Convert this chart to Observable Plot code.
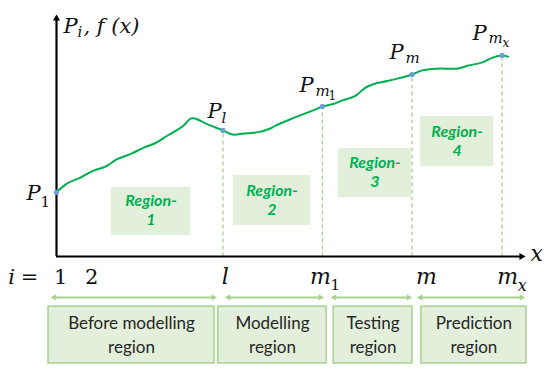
<!DOCTYPE html>
<html><head><meta charset="utf-8">
<script src="https://cdn.jsdelivr.net/npm/d3@7"></script>
<script src="https://cdn.jsdelivr.net/npm/@observablehq/plot@0.6"></script>
<style>
body{margin:0;background:#fff;}
#chart{width:550px;height:372px;}
</style>
</head><body><div id="chart"></div>
<script>
// f(x): samples along the axis (x: 0–100 of the x-axis length, y: 0–100 of the y-axis height)
const curveX = [0, 2.3, 5.1, 7.9, 10.5, 13, 16, 18.6, 21, 23.7, 25.5, 27.1, 28.6, 29.5, 32, 35.5, 37.5, 40, 43, 45.6, 46.7, 50, 54.6, 56.7, 59, 61, 63.8, 65.9, 68, 70.5, 72.9, 75.8, 78, 81, 85.7, 87.8, 90.8, 93, 95, 96.3];
const curveY = [26.5, 30.2, 32.6, 35.5, 37.2, 40.3, 42.5, 45.0, 46.8, 50.0, 52.0, 54.1, 57.0, 57.0, 54.8, 52.1, 50.4, 50.8, 51.4, 52.9, 54.1, 56.8, 60.3, 62.0, 63.0, 64.5, 66.5, 69.8, 71.5, 72.5, 73.6, 75.2, 76.9, 77.6, 77.7, 78.9, 80.2, 82.2, 83.1, 82.6];

// marked points P_i
const pointX = [0, 35.5, 56.7, 75.8, 95.0];
const pointY = [26.5, 52.1, 62.0, 75.2, 83.1];
const pointSub = ["1", "l", "m", "m", "m"];
const pointSubSub = ["", "", "1", "", "x"];

// index labels under the x-axis
const tickX = [0.9, 7.5, 36.0, 56.3, 78.9, 96.2];
const tickMain = ["1", "2", "l", "m", "m", "m"];
const tickSub = ["", "", "", "1", "", "x"];

// region boxes inside the plot
const regionLabels = ["Region-\n1", "Region-\n2", "Region-\n3", "Region-\n4"];
const regionX1 = [11.7, 37.7, 60.1, 77.6];
const regionX2 = [28.6, 54.2, 75.7, 93.2];
const regionY1 = [8.7, 12.8, 24.4, 37.2];
const regionY2 = [28.5, 33.5, 44.6, 57.9];

// phases below the axis
const phaseLabels = ["Before modelling\nregion", "Modelling\nregion", "Testing\nregion", "Prediction\nregion"];
const phaseArrowX1 = [-1.3, 35.8, 58.4, 76.8];
const phaseArrowX2 = [34.3, 57.1, 75.9, 100];
const phaseBoxX1 = [-1.7, 34.5, 59.1, 77.8];
const phaseBoxX2 = [33.7, 57.6, 75.9, 100.2];

// ---- tables built from the arrays ----
const curve = curveX.map((x, i) => ({x, y: curveY[i]}));
const points = pointX.map((x, i) => ({x, y: pointY[i], sub: pointSub[i], subsub: pointSubSub[i]}));
const ticks = tickX.map((x, i) => ({x, main: tickMain[i], sub: tickSub[i]}));
const regions = regionLabels.map((t, i) => ({t, x1: regionX1[i], x2: regionX2[i], y1: regionY1[i], y2: regionY2[i]}));
const phases = phaseLabels.map((t, i) => ({t, ax1: phaseArrowX1[i], ax2: phaseArrowX2[i], bx1: phaseBoxX1[i], bx2: phaseBoxX2[i]}));

const MATH = "DejaVu Serif";
const GREEN = "#00b050";
const LIGHT = "#a9d18e";
const FILL = "#e2efda";
const ARROW_Y = -16.9, BOX_TOP = -20.7, BOX_BOTTOM = -44.2, BOX_TEXT = -39.7, TICK_Y = -11.2;
const isDigit = s => /^\d+$/.test(s);

// point label offsets (px) : [P, sub, subsub]
const labelOffsets = [
  [[-30, 8], [-16, 15], null],
  [[-15.5, -12], [-1.5, -7], null],
  [[-23, -14], [-7, -10], [6, -6]],
  [[-22.5, -16], [-6.5, -12], null],
  [[-29.5, -15], [-13.5, -12], [0.5, -8]]
];
const labelMarks = [];
points.forEach((p, i) => {
  const [P, s, ss] = labelOffsets[i];
  labelMarks.push(Plot.text([p], {x: "x", y: "y", text: () => "P", dx: P[0], dy: P[1], textAnchor: "start", lineAnchor: "bottom", fontFamily: MATH, fontStyle: "italic", fontSize: 21, fill: "#111"}));
  labelMarks.push(Plot.text([p], {x: "x", y: "y", text: "sub", dx: s[0], dy: s[1], textAnchor: "start", lineAnchor: "bottom", fontFamily: MATH, fontStyle: isDigit(p.sub) ? "normal" : "italic", fontSize: 15, fill: "#111"}));
  if (ss) labelMarks.push(Plot.text([p], {x: "x", y: "y", text: "subsub", dx: ss[0], dy: ss[1], textAnchor: "start", lineAnchor: "bottom", fontFamily: MATH, fontStyle: isDigit(p.subsub) ? "normal" : "italic", fontSize: 12, fill: "#111"}));
});

const chart = Plot.plot({
  width: 550, height: 372,
  marginLeft: 56, marginRight: 25, marginTop: 14, marginBottom: 116,
  x: {domain: [0, 100], axis: null},
  y: {domain: [0, 100], axis: null},
  style: {background: "white", overflow: "visible"},
  marks: [
    // region boxes
    Plot.rect(regions, {x1: "x1", x2: "x2", y1: "y1", y2: "y2", fill: FILL}),
    Plot.text(regions, {x: d => (d.x1 + d.x2) / 2, y: d => d.y1 + (d.y2 - d.y1) * 0.21, text: "t", lineAnchor: "bottom", lineHeight: 1.2, fontFamily: "Lato", fontWeight: "bold", fontStyle: "italic", fontSize: 16, fill: GREEN}),
    // dashed verticals
    Plot.link(points.slice(1), {x1: "x", x2: "x", y1: 0, y2: "y", stroke: LIGHT, strokeWidth: 1.3, strokeDasharray: "4,3"}),
    // axes
    Plot.ruleY([0], {x1: 0, x2: 99, stroke: "black", strokeWidth: 2.2}),
    Plot.ruleX([0], {y1: 0, y2: 98, stroke: "black", strokeWidth: 2.2}),
    Plot.dot([{x: 100, y: 0}], {x: "x", y: "y", symbol: "triangle2", rotate: 90, r: 3.4, fill: "black", dx: -4}),
    Plot.dot([{x: 0, y: 100}], {x: "x", y: "y", symbol: "triangle2", r: 3.4, fill: "black", dy: 4}),
    // curve and points
    Plot.line(curve, {x: "x", y: "y", stroke: GREEN, strokeWidth: 2, curve: "catmull-rom"}),
    Plot.dot(points, {x: "x", y: "y", r: 2.6, fill: "#6b9fd6"}),
    ...labelMarks,
    // axis titles
    Plot.text([{x: 0, y: 100}], {x: "x", y: "y", text: () => "P", dx: 7, dy: 18, textAnchor: "start", lineAnchor: "bottom", fontFamily: MATH, fontStyle: "italic", fontSize: 21, fill: "#111"}),
    Plot.text([{x: 0, y: 100}], {x: "x", y: "y", text: () => "i", dx: 21, dy: 22, textAnchor: "start", lineAnchor: "bottom", fontFamily: MATH, fontStyle: "italic", fontSize: 15, fill: "#111"}),
    Plot.text([{x: 0, y: 100}], {x: "x", y: "y", text: () => ", f (x)", dx: 27, dy: 18, textAnchor: "start", lineAnchor: "bottom", fontFamily: MATH, fontStyle: "italic", fontSize: 21, fill: "#111"}),
    Plot.text([{x: 100, y: 0}], {x: "x", y: "y", text: () => "x", dx: 5, dy: 4, textAnchor: "start", lineAnchor: "bottom", fontFamily: MATH, fontStyle: "italic", fontSize: 22, fill: "#111"}),
    // index labels
    Plot.text([{x: 0, y: TICK_Y}], {x: "x", y: "y", text: () => "i", dx: -45, textAnchor: "middle", lineAnchor: "bottom", fontFamily: MATH, fontStyle: "italic", fontSize: 21, fill: "#111"}),
    Plot.text([{x: 0, y: TICK_Y}], {x: "x", y: "y", text: () => "=", dx: -27, textAnchor: "middle", lineAnchor: "bottom", fontFamily: MATH, fontSize: 21, fill: "#111"}),
    Plot.text(ticks.filter(d => isDigit(d.main)), {x: "x", y: () => TICK_Y, text: "main", textAnchor: "middle", lineAnchor: "bottom", fontFamily: MATH, fontSize: 21, fill: "#111"}),
    Plot.text(ticks.filter(d => !isDigit(d.main)), {x: "x", y: () => TICK_Y, text: "main", textAnchor: "middle", lineAnchor: "bottom", fontFamily: MATH, fontStyle: "italic", fontSize: 22, fill: "#111"}),
    Plot.text(ticks.filter(d => isDigit(d.sub)), {x: "x", y: () => TICK_Y, text: "sub", dx: 10, dy: 6, textAnchor: "start", lineAnchor: "bottom", fontFamily: MATH, fontSize: 15, fill: "#111"}),
    Plot.text(ticks.filter(d => d.sub && !isDigit(d.sub)), {x: "x", y: () => TICK_Y, text: "sub", dx: 10, dy: 7, textAnchor: "start", lineAnchor: "bottom", fontFamily: MATH, fontStyle: "italic", fontSize: 16, fill: "#111"}),
    // phase arrows
    Plot.ruleY(phases, {y: () => ARROW_Y, x1: "ax1", x2: "ax2", stroke: LIGHT, strokeWidth: 2, insetLeft: 4, insetRight: 4}),
    Plot.dot(phases, {x: "ax1", y: () => ARROW_Y, symbol: "triangle2", rotate: -90, r: 3, fill: LIGHT, dx: 4}),
    Plot.dot(phases, {x: "ax2", y: () => ARROW_Y, symbol: "triangle2", rotate: 90, r: 3, fill: LIGHT, dx: -4}),
    // phase boxes
    Plot.rect(phases, {x1: "bx1", x2: "bx2", y1: () => BOX_BOTTOM, y2: () => BOX_TOP, fill: FILL, stroke: LIGHT, strokeWidth: 1.5}),
    Plot.text(phases, {x: d => (d.bx1 + d.bx2) / 2, y: () => BOX_TEXT, text: "t", lineAnchor: "bottom", lineHeight: 1.375, fontFamily: "Lato", fontSize: 17, fill: "#262626"})
  ]
});
document.getElementById("chart").appendChild(chart);
</script>
</body></html>
